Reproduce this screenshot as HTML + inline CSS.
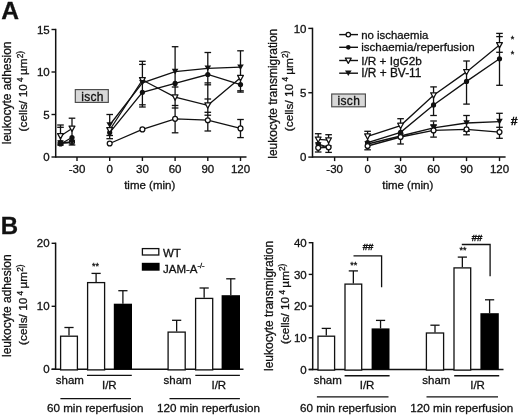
<!DOCTYPE html>
<html><head><meta charset="utf-8"><style>
html,body{margin:0;padding:0;background:#fff;}
body{width:520px;height:415px;position:relative;overflow:hidden;font-family:"Liberation Sans", sans-serif;}
svg text{font-family:"Liberation Sans", sans-serif;stroke:#111;stroke-width:0.3px;}
svg{will-change:transform;}
</style></head><body>
<svg width="520" height="415" viewBox="0 0 520 415" style="position:absolute;left:0;top:0" font-family='"Liberation Sans", sans-serif' fill="#111">
<text x="1.20" y="18.50" font-size="24.6" text-anchor="start" font-weight="bold" >A</text>
<text x="0.80" y="233.90" font-size="24" text-anchor="start" font-weight="bold" >B</text>
<line x1="55.70" y1="28.80" x2="55.70" y2="157.70" stroke="#111" stroke-width="1.5"/>
<line x1="55.70" y1="157.00" x2="246.50" y2="157.00" stroke="#111" stroke-width="1.5"/>
<line x1="51.50" y1="157.00" x2="55.70" y2="157.00" stroke="#111" stroke-width="1.4"/>
<text x="49.70" y="161.10" font-size="11.5" text-anchor="end" font-weight="normal" >0</text>
<line x1="51.50" y1="114.50" x2="55.70" y2="114.50" stroke="#111" stroke-width="1.4"/>
<text x="49.70" y="118.60" font-size="11.5" text-anchor="end" font-weight="normal" >5</text>
<line x1="51.50" y1="72.00" x2="55.70" y2="72.00" stroke="#111" stroke-width="1.4"/>
<text x="49.70" y="76.10" font-size="11.5" text-anchor="end" font-weight="normal" >10</text>
<line x1="51.50" y1="29.50" x2="55.70" y2="29.50" stroke="#111" stroke-width="1.4"/>
<text x="49.70" y="33.60" font-size="11.5" text-anchor="end" font-weight="normal" >15</text>
<line x1="77.00" y1="157.00" x2="77.00" y2="161.00" stroke="#111" stroke-width="1.4"/>
<text x="77.00" y="172.50" font-size="11.5" text-anchor="middle" font-weight="normal" >-30</text>
<line x1="109.70" y1="157.00" x2="109.70" y2="161.00" stroke="#111" stroke-width="1.4"/>
<text x="109.70" y="172.50" font-size="11.5" text-anchor="middle" font-weight="normal" >0</text>
<line x1="142.40" y1="157.00" x2="142.40" y2="161.00" stroke="#111" stroke-width="1.4"/>
<text x="142.40" y="172.50" font-size="11.5" text-anchor="middle" font-weight="normal" >30</text>
<line x1="175.10" y1="157.00" x2="175.10" y2="161.00" stroke="#111" stroke-width="1.4"/>
<text x="175.10" y="172.50" font-size="11.5" text-anchor="middle" font-weight="normal" >60</text>
<line x1="207.80" y1="157.00" x2="207.80" y2="161.00" stroke="#111" stroke-width="1.4"/>
<text x="207.80" y="172.50" font-size="11.5" text-anchor="middle" font-weight="normal" >90</text>
<line x1="240.50" y1="157.00" x2="240.50" y2="161.00" stroke="#111" stroke-width="1.4"/>
<text x="240.50" y="172.50" font-size="11.5" text-anchor="middle" font-weight="normal" >120</text>
<text x="149.70" y="188.50" font-size="11.5" text-anchor="middle" font-weight="normal" >time (min)</text>
<text transform="translate(11.0,92.85) rotate(-90)" font-size="12.0" text-anchor="middle">leukocyte adhesion</text>
<text transform="translate(27.4,91.2) rotate(-90)" font-size="11.8" text-anchor="middle">(cells/ 10<tspan dy="-4.8" font-size="8.3"> 4 </tspan><tspan dy="4.8">µm</tspan><tspan dy="-4.8" font-size="8.3">2)</tspan></text>
<rect x="75.3" y="89.6" width="33" height="12.8" fill="#d8d8d8" stroke="#4a4a4a" stroke-width="1.15"/>
<text x="92.50" y="100.60" font-size="12" text-anchor="middle" font-weight="normal" letter-spacing="0.35">isch</text>
<line x1="57.20" y1="125.00" x2="63.80" y2="125.00" stroke="#111" stroke-width="1.3"/>
<line x1="57.20" y1="145.00" x2="63.80" y2="145.00" stroke="#111" stroke-width="1.3"/>
<line x1="57.20" y1="127.30" x2="63.80" y2="127.30" stroke="#111" stroke-width="1.3"/>
<line x1="68.70" y1="118.20" x2="75.30" y2="118.20" stroke="#111" stroke-width="1.3"/>
<line x1="68.70" y1="145.00" x2="75.30" y2="145.00" stroke="#111" stroke-width="1.3"/>
<line x1="106.40" y1="114.50" x2="113.00" y2="114.50" stroke="#111" stroke-width="1.3"/>
<line x1="106.40" y1="135.50" x2="113.00" y2="135.50" stroke="#111" stroke-width="1.3"/>
<line x1="106.40" y1="138.70" x2="113.00" y2="138.70" stroke="#111" stroke-width="1.3"/>
<line x1="139.10" y1="61.30" x2="145.70" y2="61.30" stroke="#111" stroke-width="1.3"/>
<line x1="139.10" y1="107.00" x2="145.70" y2="107.00" stroke="#111" stroke-width="1.3"/>
<line x1="139.10" y1="64.40" x2="145.70" y2="64.40" stroke="#111" stroke-width="1.3"/>
<line x1="139.10" y1="104.80" x2="145.70" y2="104.80" stroke="#111" stroke-width="1.3"/>
<line x1="171.80" y1="46.70" x2="178.40" y2="46.70" stroke="#111" stroke-width="1.3"/>
<line x1="171.80" y1="87.00" x2="178.40" y2="87.00" stroke="#111" stroke-width="1.3"/>
<line x1="171.80" y1="105.50" x2="178.40" y2="105.50" stroke="#111" stroke-width="1.3"/>
<line x1="171.80" y1="108.00" x2="178.40" y2="108.00" stroke="#111" stroke-width="1.3"/>
<line x1="171.80" y1="132.80" x2="178.40" y2="132.80" stroke="#111" stroke-width="1.3"/>
<line x1="204.50" y1="52.50" x2="211.10" y2="52.50" stroke="#111" stroke-width="1.3"/>
<line x1="204.50" y1="84.80" x2="211.10" y2="84.80" stroke="#111" stroke-width="1.3"/>
<line x1="204.50" y1="82.90" x2="211.10" y2="82.90" stroke="#111" stroke-width="1.3"/>
<line x1="204.50" y1="115.20" x2="211.10" y2="115.20" stroke="#111" stroke-width="1.3"/>
<line x1="204.50" y1="99.00" x2="211.10" y2="99.00" stroke="#111" stroke-width="1.3"/>
<line x1="204.50" y1="112.30" x2="211.10" y2="112.30" stroke="#111" stroke-width="1.3"/>
<line x1="204.50" y1="131.00" x2="211.10" y2="131.00" stroke="#111" stroke-width="1.3"/>
<line x1="237.20" y1="50.80" x2="243.80" y2="50.80" stroke="#111" stroke-width="1.3"/>
<line x1="237.20" y1="92.10" x2="243.80" y2="92.10" stroke="#111" stroke-width="1.3"/>
<line x1="237.20" y1="90.80" x2="243.80" y2="90.80" stroke="#111" stroke-width="1.3"/>
<line x1="237.20" y1="119.50" x2="243.80" y2="119.50" stroke="#111" stroke-width="1.3"/>
<line x1="237.20" y1="137.60" x2="243.80" y2="137.60" stroke="#111" stroke-width="1.3"/>
<line x1="60.50" y1="125.00" x2="60.50" y2="145.00" stroke="#111" stroke-width="1.3"/>
<line x1="72.00" y1="118.20" x2="72.00" y2="145.00" stroke="#111" stroke-width="1.3"/>
<line x1="109.70" y1="114.50" x2="109.70" y2="138.70" stroke="#111" stroke-width="1.3"/>
<line x1="142.40" y1="61.30" x2="142.40" y2="107.00" stroke="#111" stroke-width="1.3"/>
<line x1="175.10" y1="46.70" x2="175.10" y2="132.80" stroke="#111" stroke-width="1.3"/>
<line x1="207.80" y1="52.50" x2="207.80" y2="131.00" stroke="#111" stroke-width="1.3"/>
<line x1="240.50" y1="50.80" x2="240.50" y2="92.10" stroke="#111" stroke-width="1.3"/>
<line x1="240.50" y1="119.50" x2="240.50" y2="137.60" stroke="#111" stroke-width="1.3"/>
<polyline points="60.50,143.00 72.00,142.00" fill="none" stroke="#111" stroke-width="1.3"/>
<polyline points="109.70,143.50 142.40,129.40 175.10,118.80 207.80,120.20 240.50,128.40" fill="none" stroke="#111" stroke-width="1.3"/>
<polyline points="60.50,144.00 72.00,137.50" fill="none" stroke="#111" stroke-width="1.3"/>
<polyline points="109.70,132.60 142.40,92.30 175.10,83.40 207.80,74.50 240.50,84.60" fill="none" stroke="#111" stroke-width="1.3"/>
<polyline points="60.50,136.00 72.00,128.50" fill="none" stroke="#111" stroke-width="1.3"/>
<polyline points="109.70,130.00 142.40,80.00 175.10,97.20 207.80,105.30 240.50,77.80" fill="none" stroke="#111" stroke-width="1.3"/>
<polyline points="60.50,143.00 72.00,142.50" fill="none" stroke="#111" stroke-width="1.3"/>
<polyline points="109.70,125.00 142.40,82.80 175.10,71.60 207.80,68.30 240.50,67.20" fill="none" stroke="#111" stroke-width="1.3"/>
<circle cx="60.50" cy="143.00" r="2.45" fill="#fff" stroke="#111" stroke-width="1.25"/>
<circle cx="72.00" cy="142.00" r="2.45" fill="#fff" stroke="#111" stroke-width="1.25"/>
<circle cx="109.70" cy="143.50" r="2.45" fill="#fff" stroke="#111" stroke-width="1.25"/>
<circle cx="142.40" cy="129.40" r="2.45" fill="#fff" stroke="#111" stroke-width="1.25"/>
<circle cx="175.10" cy="118.80" r="2.45" fill="#fff" stroke="#111" stroke-width="1.25"/>
<circle cx="207.80" cy="120.20" r="2.45" fill="#fff" stroke="#111" stroke-width="1.25"/>
<circle cx="240.50" cy="128.40" r="2.45" fill="#fff" stroke="#111" stroke-width="1.25"/>
<circle cx="60.50" cy="144.00" r="2.60" fill="#111"/>
<circle cx="72.00" cy="137.50" r="2.60" fill="#111"/>
<circle cx="109.70" cy="132.60" r="2.60" fill="#111"/>
<circle cx="142.40" cy="92.30" r="2.60" fill="#111"/>
<circle cx="175.10" cy="83.40" r="2.60" fill="#111"/>
<circle cx="207.80" cy="74.50" r="2.60" fill="#111"/>
<circle cx="240.50" cy="84.60" r="2.60" fill="#111"/>
<polygon points="57.60,133.60 63.40,133.60 60.50,138.90" fill="#fff" stroke="#111" stroke-width="1.25" stroke-linejoin="round"/>
<polygon points="69.10,126.10 74.90,126.10 72.00,131.40" fill="#fff" stroke="#111" stroke-width="1.25" stroke-linejoin="round"/>
<polygon points="106.80,127.60 112.60,127.60 109.70,132.90" fill="#fff" stroke="#111" stroke-width="1.25" stroke-linejoin="round"/>
<polygon points="139.50,77.60 145.30,77.60 142.40,82.90" fill="#fff" stroke="#111" stroke-width="1.25" stroke-linejoin="round"/>
<polygon points="172.20,94.80 178.00,94.80 175.10,100.10" fill="#fff" stroke="#111" stroke-width="1.25" stroke-linejoin="round"/>
<polygon points="204.90,102.90 210.70,102.90 207.80,108.20" fill="#fff" stroke="#111" stroke-width="1.25" stroke-linejoin="round"/>
<polygon points="237.60,75.40 243.40,75.40 240.50,80.70" fill="#fff" stroke="#111" stroke-width="1.25" stroke-linejoin="round"/>
<polygon points="57.20,140.20 63.80,140.20 60.50,145.80" fill="#111"/>
<polygon points="68.70,139.70 75.30,139.70 72.00,145.30" fill="#111"/>
<polygon points="106.40,122.20 113.00,122.20 109.70,127.80" fill="#111"/>
<polygon points="139.10,80.00 145.70,80.00 142.40,85.60" fill="#111"/>
<polygon points="171.80,68.80 178.40,68.80 175.10,74.40" fill="#111"/>
<polygon points="204.50,65.50 211.10,65.50 207.80,71.10" fill="#111"/>
<polygon points="237.20,64.40 243.80,64.40 240.50,70.00" fill="#111"/>
<line x1="312.50" y1="27.70" x2="312.50" y2="157.80" stroke="#111" stroke-width="1.5"/>
<line x1="312.50" y1="157.10" x2="505.60" y2="157.10" stroke="#111" stroke-width="1.5"/>
<line x1="308.30" y1="157.10" x2="312.50" y2="157.10" stroke="#111" stroke-width="1.4"/>
<text x="306.50" y="161.20" font-size="11.5" text-anchor="end" font-weight="normal" >0</text>
<line x1="308.30" y1="92.75" x2="312.50" y2="92.75" stroke="#111" stroke-width="1.4"/>
<text x="306.50" y="96.85" font-size="11.5" text-anchor="end" font-weight="normal" >5</text>
<line x1="308.30" y1="28.40" x2="312.50" y2="28.40" stroke="#111" stroke-width="1.4"/>
<text x="306.50" y="32.50" font-size="11.5" text-anchor="end" font-weight="normal" >10</text>
<line x1="334.62" y1="157.10" x2="334.62" y2="161.10" stroke="#111" stroke-width="1.4"/>
<text x="334.62" y="172.50" font-size="11.5" text-anchor="middle" font-weight="normal" >-30</text>
<line x1="367.60" y1="157.10" x2="367.60" y2="161.10" stroke="#111" stroke-width="1.4"/>
<text x="367.60" y="172.50" font-size="11.5" text-anchor="middle" font-weight="normal" >0</text>
<line x1="400.58" y1="157.10" x2="400.58" y2="161.10" stroke="#111" stroke-width="1.4"/>
<text x="400.58" y="172.50" font-size="11.5" text-anchor="middle" font-weight="normal" >30</text>
<line x1="433.55" y1="157.10" x2="433.55" y2="161.10" stroke="#111" stroke-width="1.4"/>
<text x="433.55" y="172.50" font-size="11.5" text-anchor="middle" font-weight="normal" >60</text>
<line x1="466.53" y1="157.10" x2="466.53" y2="161.10" stroke="#111" stroke-width="1.4"/>
<text x="466.53" y="172.50" font-size="11.5" text-anchor="middle" font-weight="normal" >90</text>
<line x1="499.50" y1="157.10" x2="499.50" y2="161.10" stroke="#111" stroke-width="1.4"/>
<text x="499.50" y="172.50" font-size="11.5" text-anchor="middle" font-weight="normal" >120</text>
<text x="407.75" y="188.50" font-size="11.5" text-anchor="middle" font-weight="normal" >time (min)</text>
<text transform="translate(276.9,93.75) rotate(-90)" font-size="12.0" text-anchor="middle">leukocyte transmigration</text>
<text transform="translate(292.9,90.9) rotate(-90)" font-size="11.8" text-anchor="middle">(cells/ 10<tspan dy="-4.8" font-size="8.3"> 4 </tspan><tspan dy="4.8">µm</tspan><tspan dy="-4.8" font-size="8.3">2)</tspan></text>
<rect x="331.7" y="94.0" width="33.7" height="12.8" fill="#d8d8d8" stroke="#4a4a4a" stroke-width="1.15"/>
<text x="348.80" y="105.00" font-size="12" text-anchor="middle" font-weight="normal" letter-spacing="0.35">isch</text>
<line x1="314.90" y1="133.70" x2="321.50" y2="133.70" stroke="#111" stroke-width="1.3"/>
<line x1="314.90" y1="152.00" x2="321.50" y2="152.00" stroke="#111" stroke-width="1.3"/>
<line x1="325.30" y1="134.70" x2="331.90" y2="134.70" stroke="#111" stroke-width="1.3"/>
<line x1="325.30" y1="152.40" x2="331.90" y2="152.40" stroke="#111" stroke-width="1.3"/>
<line x1="364.30" y1="131.30" x2="370.90" y2="131.30" stroke="#111" stroke-width="1.3"/>
<line x1="364.30" y1="149.80" x2="370.90" y2="149.80" stroke="#111" stroke-width="1.3"/>
<line x1="397.28" y1="118.70" x2="403.88" y2="118.70" stroke="#111" stroke-width="1.3"/>
<line x1="397.28" y1="144.00" x2="403.88" y2="144.00" stroke="#111" stroke-width="1.3"/>
<line x1="430.25" y1="86.90" x2="436.85" y2="86.90" stroke="#111" stroke-width="1.3"/>
<line x1="430.25" y1="115.50" x2="436.85" y2="115.50" stroke="#111" stroke-width="1.3"/>
<line x1="430.25" y1="121.00" x2="436.85" y2="121.00" stroke="#111" stroke-width="1.3"/>
<line x1="430.25" y1="137.10" x2="436.85" y2="137.10" stroke="#111" stroke-width="1.3"/>
<line x1="430.25" y1="124.80" x2="436.85" y2="124.80" stroke="#111" stroke-width="1.3"/>
<line x1="463.23" y1="61.00" x2="469.83" y2="61.00" stroke="#111" stroke-width="1.3"/>
<line x1="463.23" y1="104.10" x2="469.83" y2="104.10" stroke="#111" stroke-width="1.3"/>
<line x1="463.23" y1="115.50" x2="469.83" y2="115.50" stroke="#111" stroke-width="1.3"/>
<line x1="463.23" y1="134.80" x2="469.83" y2="134.80" stroke="#111" stroke-width="1.3"/>
<line x1="463.23" y1="131.30" x2="469.83" y2="131.30" stroke="#111" stroke-width="1.3"/>
<line x1="496.20" y1="33.40" x2="502.80" y2="33.40" stroke="#111" stroke-width="1.3"/>
<line x1="496.20" y1="85.30" x2="502.80" y2="85.30" stroke="#111" stroke-width="1.3"/>
<line x1="496.20" y1="36.60" x2="502.80" y2="36.60" stroke="#111" stroke-width="1.3"/>
<line x1="496.20" y1="52.30" x2="502.80" y2="52.30" stroke="#111" stroke-width="1.3"/>
<line x1="496.20" y1="113.30" x2="502.80" y2="113.30" stroke="#111" stroke-width="1.3"/>
<line x1="496.20" y1="138.30" x2="502.80" y2="138.30" stroke="#111" stroke-width="1.3"/>
<line x1="496.20" y1="127.30" x2="502.80" y2="127.30" stroke="#111" stroke-width="1.3"/>
<line x1="318.20" y1="133.70" x2="318.20" y2="152.00" stroke="#111" stroke-width="1.3"/>
<line x1="328.60" y1="134.70" x2="328.60" y2="152.40" stroke="#111" stroke-width="1.3"/>
<line x1="367.60" y1="131.30" x2="367.60" y2="149.80" stroke="#111" stroke-width="1.3"/>
<line x1="400.58" y1="118.70" x2="400.58" y2="144.00" stroke="#111" stroke-width="1.3"/>
<line x1="433.55" y1="86.90" x2="433.55" y2="115.50" stroke="#111" stroke-width="1.3"/>
<line x1="433.55" y1="121.60" x2="433.55" y2="136.80" stroke="#111" stroke-width="1.3"/>
<line x1="466.53" y1="61.00" x2="466.53" y2="104.10" stroke="#111" stroke-width="1.3"/>
<line x1="466.53" y1="115.50" x2="466.53" y2="134.90" stroke="#111" stroke-width="1.3"/>
<line x1="499.50" y1="33.40" x2="499.50" y2="85.30" stroke="#111" stroke-width="1.3"/>
<line x1="499.50" y1="113.30" x2="499.50" y2="138.20" stroke="#111" stroke-width="1.3"/>
<polyline points="318.20,147.80 328.60,147.30" fill="none" stroke="#111" stroke-width="1.3"/>
<polyline points="367.60,146.00 400.58,137.00 433.55,130.40 466.53,129.30 499.50,132.10" fill="none" stroke="#111" stroke-width="1.3"/>
<polyline points="318.20,144.00 328.60,147.30" fill="none" stroke="#111" stroke-width="1.3"/>
<polyline points="367.60,142.70 400.58,132.30 433.55,104.90 466.53,81.40 499.50,58.80" fill="none" stroke="#111" stroke-width="1.3"/>
<polyline points="318.20,139.40 328.60,140.20" fill="none" stroke="#111" stroke-width="1.3"/>
<polyline points="367.60,136.30 400.58,125.60 433.55,95.20 466.53,71.90 499.50,45.00" fill="none" stroke="#111" stroke-width="1.3"/>
<polyline points="318.20,145.00 328.60,148.00" fill="none" stroke="#111" stroke-width="1.3"/>
<polyline points="367.60,144.00 400.58,136.00 433.55,127.90 466.53,123.00 499.50,121.60" fill="none" stroke="#111" stroke-width="1.3"/>
<polygon points="314.90,142.20 321.50,142.20 318.20,147.80" fill="#111"/>
<polygon points="325.30,145.20 331.90,145.20 328.60,150.80" fill="#111"/>
<polygon points="364.30,141.20 370.90,141.20 367.60,146.80" fill="#111"/>
<polygon points="397.28,133.20 403.88,133.20 400.58,138.80" fill="#111"/>
<polygon points="430.25,125.10 436.85,125.10 433.55,130.70" fill="#111"/>
<polygon points="463.23,120.20 469.83,120.20 466.53,125.80" fill="#111"/>
<polygon points="496.20,118.80 502.80,118.80 499.50,124.40" fill="#111"/>
<polygon points="315.30,137.00 321.10,137.00 318.20,142.30" fill="#fff" stroke="#111" stroke-width="1.25" stroke-linejoin="round"/>
<polygon points="325.70,137.80 331.50,137.80 328.60,143.10" fill="#fff" stroke="#111" stroke-width="1.25" stroke-linejoin="round"/>
<polygon points="364.70,133.90 370.50,133.90 367.60,139.20" fill="#fff" stroke="#111" stroke-width="1.25" stroke-linejoin="round"/>
<polygon points="397.68,123.20 403.48,123.20 400.58,128.50" fill="#fff" stroke="#111" stroke-width="1.25" stroke-linejoin="round"/>
<polygon points="430.65,92.80 436.45,92.80 433.55,98.10" fill="#fff" stroke="#111" stroke-width="1.25" stroke-linejoin="round"/>
<polygon points="463.63,69.50 469.43,69.50 466.53,74.80" fill="#fff" stroke="#111" stroke-width="1.25" stroke-linejoin="round"/>
<polygon points="496.60,42.60 502.40,42.60 499.50,47.90" fill="#fff" stroke="#111" stroke-width="1.25" stroke-linejoin="round"/>
<circle cx="318.20" cy="144.00" r="2.60" fill="#111"/>
<circle cx="328.60" cy="147.30" r="2.60" fill="#111"/>
<circle cx="367.60" cy="142.70" r="2.60" fill="#111"/>
<circle cx="400.58" cy="132.30" r="2.60" fill="#111"/>
<circle cx="433.55" cy="104.90" r="2.60" fill="#111"/>
<circle cx="466.53" cy="81.40" r="2.60" fill="#111"/>
<circle cx="499.50" cy="58.80" r="2.60" fill="#111"/>
<circle cx="318.20" cy="147.80" r="2.45" fill="#fff" stroke="#111" stroke-width="1.25"/>
<circle cx="328.60" cy="147.30" r="2.45" fill="#fff" stroke="#111" stroke-width="1.25"/>
<circle cx="367.60" cy="146.00" r="2.45" fill="#fff" stroke="#111" stroke-width="1.25"/>
<circle cx="400.58" cy="137.00" r="2.45" fill="#fff" stroke="#111" stroke-width="1.25"/>
<circle cx="433.55" cy="130.40" r="2.45" fill="#fff" stroke="#111" stroke-width="1.25"/>
<circle cx="466.53" cy="129.30" r="2.45" fill="#fff" stroke="#111" stroke-width="1.25"/>
<circle cx="499.50" cy="132.10" r="2.45" fill="#fff" stroke="#111" stroke-width="1.25"/>
<text x="512.60" y="41.50" font-size="9" text-anchor="middle" font-weight="normal" >*</text>
<text x="512.50" y="56.90" font-size="9" text-anchor="middle" font-weight="normal" >*</text>
<text x="514.10" y="125.30" font-size="11.5" text-anchor="middle" font-weight="normal" style="stroke-width:0.6px">#</text>
<line x1="339.20" y1="34.60" x2="358.00" y2="34.60" stroke="#111" stroke-width="1.4"/>
<circle cx="348.30" cy="34.60" r="2.21" fill="#fff" stroke="#111" stroke-width="1.25"/>
<text x="361.20" y="39.00" font-size="11.4" text-anchor="start" font-weight="normal" >no ischaemia</text>
<line x1="339.20" y1="47.30" x2="358.00" y2="47.30" stroke="#111" stroke-width="1.4"/>
<circle cx="348.30" cy="47.30" r="2.34" fill="#111"/>
<text x="361.20" y="50.80" font-size="11.6" text-anchor="start" font-weight="normal" >ischaemia/reperfusion</text>
<line x1="339.20" y1="60.50" x2="358.00" y2="60.50" stroke="#111" stroke-width="1.4"/>
<polygon points="345.40,58.10 351.20,58.10 348.30,63.40" fill="#fff" stroke="#111" stroke-width="1.25" stroke-linejoin="round"/>
<text x="361.20" y="64.60" font-size="11.8" text-anchor="start" font-weight="normal" >I/R + IgG2b</text>
<line x1="339.20" y1="73.20" x2="358.00" y2="73.20" stroke="#111" stroke-width="1.4"/>
<polygon points="345.00,70.40 351.60,70.40 348.30,76.00" fill="#111"/>
<text x="361.20" y="77.10" font-size="11.9" text-anchor="start" font-weight="normal" >I/R + BV-11</text>
<line x1="55.60" y1="242.60" x2="55.60" y2="370.00" stroke="#111" stroke-width="1.5"/>
<line x1="51.60" y1="369.30" x2="243.50" y2="369.30" stroke="#111" stroke-width="1.5"/>
<line x1="51.60" y1="369.30" x2="55.60" y2="369.30" stroke="#111" stroke-width="1.4"/>
<text x="49.60" y="373.40" font-size="11.5" text-anchor="end" font-weight="normal" >0</text>
<line x1="51.60" y1="306.30" x2="55.60" y2="306.30" stroke="#111" stroke-width="1.4"/>
<text x="49.60" y="310.40" font-size="11.5" text-anchor="end" font-weight="normal" >10</text>
<line x1="51.60" y1="243.30" x2="55.60" y2="243.30" stroke="#111" stroke-width="1.4"/>
<text x="49.60" y="247.40" font-size="11.5" text-anchor="end" font-weight="normal" >20</text>
<text transform="translate(10.8,305.65) rotate(-90)" font-size="12.0" text-anchor="middle">leukocyte adhesion</text>
<text transform="translate(27.4,304.7) rotate(-90)" font-size="11.8" text-anchor="middle">(cells/ 10<tspan dy="-4.8" font-size="8.3"> 4 </tspan><tspan dy="4.8">µm</tspan><tspan dy="-4.8" font-size="8.3">2)</tspan></text>
<line x1="69.00" y1="335.60" x2="69.00" y2="327.50" stroke="#111" stroke-width="1.3"/>
<line x1="64.40" y1="327.50" x2="73.60" y2="327.50" stroke="#111" stroke-width="1.3"/>
<rect x="60.60" y="336.20" width="16.80" height="33.70" fill="#fff" stroke="#111" stroke-width="1.3"/>
<line x1="96.10" y1="282.00" x2="96.10" y2="273.40" stroke="#111" stroke-width="1.3"/>
<line x1="91.50" y1="273.40" x2="100.70" y2="273.40" stroke="#111" stroke-width="1.3"/>
<rect x="87.60" y="282.60" width="17.00" height="87.30" fill="#fff" stroke="#111" stroke-width="1.3"/>
<line x1="122.90" y1="303.70" x2="122.90" y2="290.70" stroke="#111" stroke-width="1.3"/>
<line x1="118.30" y1="290.70" x2="127.50" y2="290.70" stroke="#111" stroke-width="1.3"/>
<rect x="113.80" y="303.70" width="18.20" height="65.60" fill="#000"/>
<line x1="176.65" y1="331.50" x2="176.65" y2="320.30" stroke="#111" stroke-width="1.3"/>
<line x1="172.05" y1="320.30" x2="181.25" y2="320.30" stroke="#111" stroke-width="1.3"/>
<rect x="168.10" y="332.10" width="17.10" height="37.80" fill="#fff" stroke="#111" stroke-width="1.3"/>
<line x1="204.15" y1="297.80" x2="204.15" y2="288.00" stroke="#111" stroke-width="1.3"/>
<line x1="199.55" y1="288.00" x2="208.75" y2="288.00" stroke="#111" stroke-width="1.3"/>
<rect x="195.60" y="298.40" width="17.10" height="71.50" fill="#fff" stroke="#111" stroke-width="1.3"/>
<line x1="230.80" y1="295.20" x2="230.80" y2="278.80" stroke="#111" stroke-width="1.3"/>
<line x1="226.20" y1="278.80" x2="235.40" y2="278.80" stroke="#111" stroke-width="1.3"/>
<rect x="221.60" y="295.20" width="18.40" height="74.10" fill="#000"/>
<text x="95.60" y="269.00" font-size="9" text-anchor="middle" font-weight="normal" >**</text>
<text x="69.90" y="384.30" font-size="11.5" text-anchor="middle" font-weight="normal" >sham</text>
<line x1="87.00" y1="375.40" x2="131.80" y2="375.40" stroke="#111" stroke-width="1.4"/>
<text x="109.30" y="389.00" font-size="11.5" text-anchor="middle" font-weight="normal" >I/R</text>
<line x1="60.40" y1="398.60" x2="131.00" y2="398.60" stroke="#111" stroke-width="1.4"/>
<text x="95.20" y="411.80" font-size="11.65" text-anchor="middle" font-weight="normal" >60 min reperfusion</text>
<text x="177.60" y="384.30" font-size="11.5" text-anchor="middle" font-weight="normal" >sham</text>
<line x1="195.30" y1="375.40" x2="239.90" y2="375.40" stroke="#111" stroke-width="1.4"/>
<text x="218.80" y="389.00" font-size="11.5" text-anchor="middle" font-weight="normal" >I/R</text>
<line x1="169.50" y1="398.60" x2="239.90" y2="398.60" stroke="#111" stroke-width="1.4"/>
<text x="208.50" y="411.80" font-size="11.65" text-anchor="middle" font-weight="normal" >120 min reperfusion</text>
<rect x="142.4" y="248.6" width="16.4" height="6.4" fill="#fff" stroke="#111" stroke-width="1.3"/>
<rect x="141.8" y="262.8" width="17.8" height="7.9" fill="#000"/>
<text x="163.00" y="256.50" font-size="11.5" text-anchor="start" font-weight="normal" >WT</text>
<text x="163.00" y="272.60" font-size="11.5" text-anchor="start" font-weight="normal" >JAM-A<tspan dy="-4.5" font-size="7.5">-/-</tspan></text>
<line x1="312.70" y1="242.00" x2="312.70" y2="370.20" stroke="#111" stroke-width="1.5"/>
<line x1="308.70" y1="369.50" x2="503.50" y2="369.50" stroke="#111" stroke-width="1.5"/>
<line x1="308.70" y1="369.50" x2="312.70" y2="369.50" stroke="#111" stroke-width="1.4"/>
<text x="306.70" y="373.60" font-size="11.5" text-anchor="end" font-weight="normal" >0</text>
<line x1="308.70" y1="337.80" x2="312.70" y2="337.80" stroke="#111" stroke-width="1.4"/>
<text x="306.70" y="341.90" font-size="11.5" text-anchor="end" font-weight="normal" >10</text>
<line x1="308.70" y1="306.10" x2="312.70" y2="306.10" stroke="#111" stroke-width="1.4"/>
<text x="306.70" y="310.20" font-size="11.5" text-anchor="end" font-weight="normal" >20</text>
<line x1="308.70" y1="274.40" x2="312.70" y2="274.40" stroke="#111" stroke-width="1.4"/>
<text x="306.70" y="278.50" font-size="11.5" text-anchor="end" font-weight="normal" >30</text>
<line x1="308.70" y1="242.70" x2="312.70" y2="242.70" stroke="#111" stroke-width="1.4"/>
<text x="306.70" y="246.80" font-size="11.5" text-anchor="end" font-weight="normal" >40</text>
<text transform="translate(272.5,305.95) rotate(-90)" font-size="12.0" text-anchor="middle">leukocyte transmigration</text>
<text transform="translate(289.3,303.85) rotate(-90)" font-size="11.8" text-anchor="middle">(cells/ 10<tspan dy="-4.8" font-size="8.3"> 4 </tspan><tspan dy="4.8">µm</tspan><tspan dy="-4.8" font-size="8.3">2)</tspan></text>
<line x1="326.30" y1="335.60" x2="326.30" y2="328.40" stroke="#111" stroke-width="1.3"/>
<line x1="321.70" y1="328.40" x2="330.90" y2="328.40" stroke="#111" stroke-width="1.3"/>
<rect x="318.00" y="336.20" width="16.60" height="33.90" fill="#fff" stroke="#111" stroke-width="1.3"/>
<line x1="353.35" y1="283.50" x2="353.35" y2="270.90" stroke="#111" stroke-width="1.3"/>
<line x1="348.75" y1="270.90" x2="357.95" y2="270.90" stroke="#111" stroke-width="1.3"/>
<rect x="345.00" y="284.10" width="16.70" height="86.00" fill="#fff" stroke="#111" stroke-width="1.3"/>
<line x1="380.55" y1="328.40" x2="380.55" y2="320.40" stroke="#111" stroke-width="1.3"/>
<line x1="375.95" y1="320.40" x2="385.15" y2="320.40" stroke="#111" stroke-width="1.3"/>
<rect x="371.60" y="328.40" width="17.90" height="41.10" fill="#000"/>
<line x1="435.00" y1="332.40" x2="435.00" y2="325.20" stroke="#111" stroke-width="1.3"/>
<line x1="430.40" y1="325.20" x2="439.60" y2="325.20" stroke="#111" stroke-width="1.3"/>
<rect x="426.40" y="333.00" width="17.20" height="37.10" fill="#fff" stroke="#111" stroke-width="1.3"/>
<line x1="462.35" y1="267.30" x2="462.35" y2="257.10" stroke="#111" stroke-width="1.3"/>
<line x1="457.75" y1="257.10" x2="466.95" y2="257.10" stroke="#111" stroke-width="1.3"/>
<rect x="454.00" y="267.90" width="16.70" height="102.20" fill="#fff" stroke="#111" stroke-width="1.3"/>
<line x1="489.60" y1="313.20" x2="489.60" y2="299.80" stroke="#111" stroke-width="1.3"/>
<line x1="485.00" y1="299.80" x2="494.20" y2="299.80" stroke="#111" stroke-width="1.3"/>
<rect x="480.40" y="313.20" width="18.40" height="56.30" fill="#000"/>
<text x="353.80" y="268.00" font-size="9" text-anchor="middle" font-weight="normal" >**</text>
<text x="463.00" y="253.30" font-size="9" text-anchor="middle" font-weight="normal" >**</text>
<polyline points="353.5,255.9 381.6,255.9 381.6,287.3" fill="none" stroke="#111" stroke-width="1.3"/>
<polyline points="461.8,244.5 490.1,244.5 490.1,276.3" fill="none" stroke="#111" stroke-width="1.3"/>
<text x="368.00" y="250.30" font-size="9.5" text-anchor="middle" font-weight="normal" style="stroke-width:0.45px">##</text>
<text x="477.00" y="240.60" font-size="9.5" text-anchor="middle" font-weight="normal" style="stroke-width:0.45px">##</text>
<text x="327.70" y="384.30" font-size="11.5" text-anchor="middle" font-weight="normal" >sham</text>
<line x1="344.60" y1="375.70" x2="389.60" y2="375.70" stroke="#111" stroke-width="1.4"/>
<text x="367.10" y="389.30" font-size="11.5" text-anchor="middle" font-weight="normal" >I/R</text>
<line x1="316.90" y1="396.90" x2="388.50" y2="396.90" stroke="#111" stroke-width="1.4"/>
<text x="348.30" y="411.80" font-size="11.65" text-anchor="middle" font-weight="normal" >60 min reperfusion</text>
<text x="436.30" y="384.30" font-size="11.5" text-anchor="middle" font-weight="normal" >sham</text>
<line x1="454.20" y1="375.70" x2="499.20" y2="375.70" stroke="#111" stroke-width="1.4"/>
<text x="477.60" y="389.30" font-size="11.5" text-anchor="middle" font-weight="normal" >I/R</text>
<line x1="426.50" y1="396.90" x2="498.00" y2="396.90" stroke="#111" stroke-width="1.4"/>
<text x="461.70" y="411.80" font-size="11.65" text-anchor="middle" font-weight="normal" >120 min reperfusion</text>
</svg>
</body></html>
